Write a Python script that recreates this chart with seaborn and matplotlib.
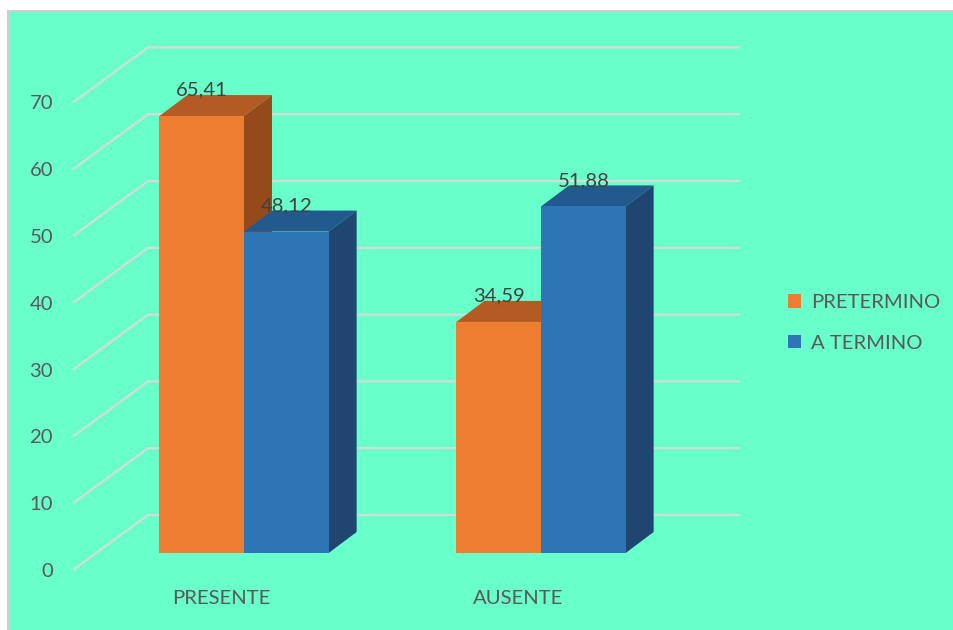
import matplotlib
matplotlib.use("Agg")
import matplotlib.pyplot as plt
from matplotlib.patches import Polygon, Rectangle
import seaborn as sns
import pandas as pd

# datos
categorias = ["PRESENTE", "AUSENTE"]
grupos = ["PRETERMINO", "A TERMINO"]
pretermino = [65.41, 34.59]
a_termino = [48.12, 51.88]
ticks_y = [0, 10, 20, 30, 40, 50, 60, 70]

df = pd.DataFrame({
    "categoria": categorias * 2,
    "grupo": [grupos[0]] * 2 + [grupos[1]] * 2,
    "valor": pretermino + a_termino,
})

colores = ["#ED7D31", "#2E75B6"]
techo = ["#B35B22", "#235A8D"]
lado = ["#954A1B", "#1F4670"]
fondo = "#68FFCB"
gris_texto = "#595959"
fs = 14.6

sns.set_theme(style="white")
plt.rcParams["font.family"] = ["Lato", "DejaVu Sans"]

W, H = 954, 630
fig = plt.figure(figsize=(W / 100, H / 100), dpi=100)
fig.patch.set_facecolor("white")
fig.add_artist(Rectangle((8 / W, -0.02), 1, (H - 11) / H + 0.02, transform=fig.transFigure,
                         facecolor=fondo, edgecolor="#CFCFCF", lw=1.5, zorder=-1))

ax = fig.add_axes([0, 0, 1, 1])
ax.patch.set_alpha(0)
for s in ax.spines.values():
    s.set_visible(False)

sns.barplot(data=df, x="categoria", y="valor", hue="grupo", palette=colores,
            saturation=1, width=0.57, ax=ax, zorder=3, edgecolor="none", linewidth=0)

# escala en pixeles: categoria 0 en x=244, valor 0 en y=553
px_cat, px_val = 297.0, 6.68
ax.set_xlim(-244 / px_cat, (W - 244) / px_cat)
ax.set_ylim((553 - H) / px_val, 553 / px_val)

def dx(p):
    return p / px_cat

def dy(p):
    return p / px_val

# profundidad de barras, pared del fondo y plano frontal
bar_dx, bar_dy = dx(28), dy(21)
back_dx, back_dy = dx(52), dy(38)
front_dx, front_dy = dx(-23), dy(-17)
wall_left, wall_right = dx(148 - 244), dx(740 - 244)

# rejilla "3D"
for v in ticks_y:
    ax.plot([wall_left + front_dx - back_dx, wall_left, wall_right],
            [v + front_dy, v + back_dy, v + back_dy],
            color="#D3DDD8", lw=1.6, zorder=1, solid_capstyle="butt")

# caras superiores y laterales
for i, cont in enumerate(ax.containers):
    for bar in cont:
        x0 = bar.get_x()
        x1 = x0 + bar.get_width()
        h = bar.get_height()
        ax.add_patch(Polygon([(x0, h), (x1, h), (x1 + bar_dx, h + bar_dy), (x0 + bar_dx, h + bar_dy)],
                             closed=True, facecolor=techo[i], edgecolor="none", zorder=2))
        ax.add_patch(Polygon([(x1, 0), (x1 + bar_dx, bar_dy), (x1 + bar_dx, h + bar_dy), (x1, h)],
                             closed=True, facecolor=lado[i], edgecolor="none", zorder=2))
        ax.annotate(f"{h:.2f}".replace(".", ","), (x0 + bar.get_width() / 2, h),
                    xytext=(0, 26 * 0.72), textcoords="offset points",
                    ha="center", va="center", fontsize=fs, color="#404040", zorder=5)

ax.set_yticks([v + front_dy for v in ticks_y])
ax.set_yticklabels([str(v) for v in ticks_y])
ax.set_xticks([i + front_dx for i in range(len(categorias))])
ax.set_xticklabels(categorias)
ax.tick_params(axis="y", length=0, pad=-53 * 0.72, labelsize=fs, labelcolor=gris_texto)
ax.tick_params(axis="x", length=0, pad=-40 * 0.72, labelsize=fs, labelcolor=gris_texto)
ax.set_xlabel("")
ax.set_ylabel("")

sns.move_legend(ax, loc="center left", bbox_to_anchor=(788 / W, 1 - 323 / H),
                bbox_transform=fig.transFigure, frameon=False, title=None,
                fontsize=fs, handlelength=0.65, handleheight=0.65, handletextpad=0.5,
                labelspacing=1.15, borderpad=0, borderaxespad=0)
leg = ax.get_legend()
for t in leg.get_texts():
    t.set_color(gris_texto)
for hnd in leg.legend_handles:
    hnd.set_edgecolor("none")

fig.savefig("out.png", dpi=100, facecolor="white")
